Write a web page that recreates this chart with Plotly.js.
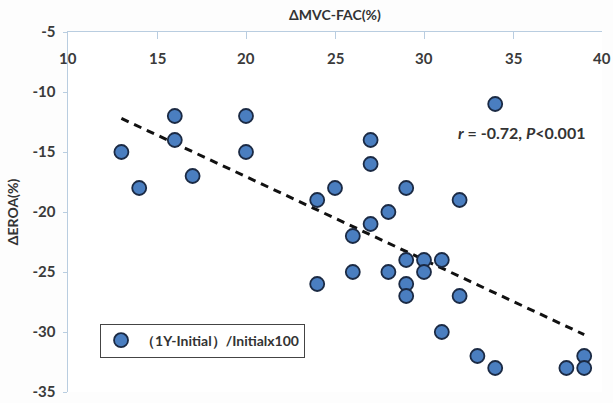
<!DOCTYPE html>
<html><head><meta charset="utf-8">
<script src="https://cdn.plot.ly/plotly-3.0.1.min.js"></script>
<style>html,body{margin:0;padding:0;background:#fdfdfd;}#chart{width:613px;height:403px;}</style>
</head><body><div id="chart"></div>
<script>
const mvcFac = [13,14,16,16,17,20,20,24,24,25,26,26,27,27,27,28,28,29,29,29,29,30,30,31,31,32,32,33,34,34,38,39,39];
const eroa   = [-15,-18,-12,-14,-17,-12,-15,-19,-26,-18,-22,-25,-14,-16,-21,-20,-25,-18,-24,-26,-27,-24,-25,-24,-30,-19,-27,-32,-11,-33,-33,-32,-33];
const xTicks = [10,15,20,25,30,35,40];
const yTicks = [-5,-10,-15,-20,-25,-30,-35];
const seriesName = '（1Y-Initial）/Initialx100';
const statText = '<i>r</i> = -0.72, <i>P</i><0.001';

// least-squares trend line from the data
const n = mvcFac.length;
const mx = mvcFac.reduce((a,b)=>a+b,0)/n, my = eroa.reduce((a,b)=>a+b,0)/n;
let sxy=0, sxx=0;
for(let i=0;i<n;i++){sxy+=(mvcFac[i]-mx)*(eroa[i]-my); sxx+=(mvcFac[i]-mx)**2;}
const slope = sxy/sxx, icpt = my - slope*mx;
const xmin = Math.min(...mvcFac), xmax = Math.max(...mvcFac);
const trendX = [xmin, xmax], trendY = trendX.map(v=>icpt+slope*v);

const font = 'Lato, "Open Sans", sans-serif';
const lbl = v => '<b>' + String(v) + '</b>';
const traces = [
  {x: trendX, y: trendY, mode:'lines', showlegend:false, hoverinfo:'skip',
   line:{color:'#111', width:3, dash:'8px,6px'}},
  {x: mvcFac, y: eroa, mode:'markers', name: '<b>'+seriesName+'</b>', type:'scatter',
   marker:{size:14, color:'#4a7ec0', line:{color:'#1b2a44', width:1.8}}}
];
// x tick labels sit just below the top axis line (inside the plot)
const xTickAnnots = xTicks.map(v => ({x:v, xref:'x', y:1, yref:'paper', yanchor:'middle', xanchor:'center',
  yshift:-26, showarrow:false, text:lbl(v), font:{family:font, size:15, color:'#3a3a3a'}}));
const layout = {
  width:613, height:403,
  paper_bgcolor:'#fdfdfd', plot_bgcolor:'#ffffff',
  margin:{l:68, r:11, t:32, b:11},
  font:{family:font, color:'#333', size:13},
  xaxis:{range:[10,40], side:'top', tickvals:xTicks, showticklabels:false, ticks:'inside', ticklen:7, tickcolor:'#b9cde0',
    showgrid:false, zeroline:false, showline:true, linecolor:'#b9cde0', linewidth:1.5,
    title:{text:'<b>ΔMVC-FAC(%)</b>', font:{family:font, size:14, color:'#333'}, standoff:6}},
  yaxis:{range:[-35,-5], tickvals:yTicks, ticktext:yTicks.map(lbl), ticks:'outside', ticklen:4, tickcolor:'#b9cde0',
    ticklabelstandoff:4,
    showgrid:false, zeroline:false, showline:true, linecolor:'#b9cde0', linewidth:1.5,
    tickfont:{family:font, size:15, color:'#3a3a3a'},
    title:{text:'<b>ΔEROA(%)</b>', font:{family:font, size:14, color:'#333'}, standoff:10}},
  legend:{x:0.06, y:0.19, xanchor:'left', yanchor:'top', bgcolor:'#ffffff', bordercolor:'#444', borderwidth:1,
    itemwidth:30, font:{family:font, size:14, color:'#333'}},
  annotations:[{xref:'paper', yref:'paper', x:0.972, y:0.72, xanchor:'right', yanchor:'middle', showarrow:false,
    text:'<b>'+statText+'</b>', font:{family:font, size:16, color:'#333'}}].concat(xTickAnnots)
};
Plotly.newPlot('chart', traces, layout, {displayModeBar:false, staticPlot:true});
</script></body></html>
